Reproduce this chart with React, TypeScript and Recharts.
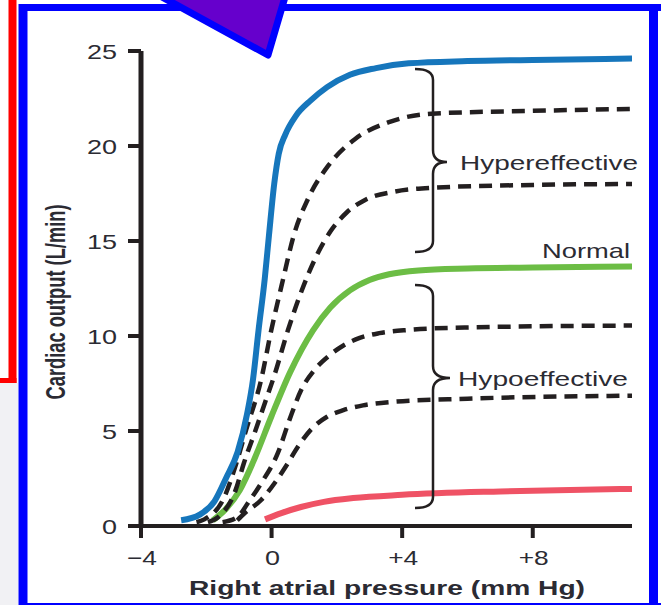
import { LineChart, Line, XAxis, YAxis } from "recharts";

// x ticks (mm Hg) and y ticks (L/min)
const xTicks = [-4, 0, 4, 8];
const xTickLabels = ["−4", "0", "+4", "+8"];
const yTicks = [0, 5, 10, 15, 20, 25];

// each curve: [right atrial pressure, cardiac output]
const maxEffective = [
  [-2.77, 0.3], [-2.2, 0.6], [-1.75, 1.3], [-1.4, 2.5], [-1.04, 3.9], [-0.75, 5.9],
  [-0.57, 7.7], [-0.4, 10.3], [-0.21, 13.0], [-0.08, 15.3], [0.08, 18.0], [0.22, 19.6],
  [0.42, 20.6], [0.75, 21.6], [1.2, 22.4], [1.7, 23.1], [2.4, 23.75], [3.2, 24.1],
  [4.2, 24.35], [6.0, 24.47], [8.0, 24.53], [11.04, 24.6],
];
const hyperHigh = [
  [-2.3, 0.2], [-2.06, 0.35], [-1.44, 1.55], [-1.08, 3.3], [-0.78, 5.06], [-0.32, 7.7],
  [-0.01, 10.3], [0.35, 12.97], [0.68, 15.3], [1.11, 17.2], [1.73, 18.95], [2.55, 20.36],
  [3.57, 21.24], [4.9, 21.7], [8.0, 21.85], [11.04, 21.95],
];
const hyperLow = [
  [-1.95, 0.2], [-1.65, 0.45], [-1.1, 1.9], [-0.85, 3.3], [-0.5, 5.0], [-0.2, 6.5],
  [0.08, 7.9], [0.5, 10.3], [0.86, 12.1], [1.37, 14.2], [1.8, 15.5], [2.3, 16.5],
  [2.85, 17.15], [3.77, 17.6], [4.9, 17.8], [8.0, 17.95], [11.04, 18.0],
];
const normal = [
  [-1.8, 0.3], [-1.4, 0.9], [-0.97, 1.9], [-0.52, 3.55], [-0.01, 5.75], [0.57, 8.1],
  [1.27, 10.3], [1.8, 11.5], [2.4, 12.4], [3.0, 12.95], [3.6, 13.25], [4.5, 13.45],
  [6.0, 13.55], [8.0, 13.6], [11.04, 13.66],
];
const hypoHigh = [
  [-1.5, 0.2], [-1.03, 0.49], [-0.73, 1.2], [-0.32, 2.25], [0.19, 3.83], [0.55, 5.6],
  [0.91, 7.17], [1.32, 8.23], [1.75, 8.95], [2.2, 9.5], [2.7, 9.9], [3.3, 10.15],
  [4.2, 10.32], [6.0, 10.45], [11.04, 10.55],
];
const hypoLow = [
  [-1.05, 0.3], [-0.83, 0.67], [-0.32, 1.37], [0.09, 2.25], [0.5, 3.31], [0.81, 4.18],
  [1.22, 5.1], [1.7, 5.75], [2.2, 6.1], [2.8, 6.35], [3.6, 6.52], [6.0, 6.7], [11.04, 6.86],
];
const minEffective = [
  [-0.2, 0.35], [0.3, 0.68], [0.9, 1.0], [1.6, 1.27], [2.5, 1.47], [4.0, 1.64],
  [7.0, 1.82], [11.04, 1.95],
];

const FONT = "'Liberation Sans', Arial, sans-serif";
const INK = "#231f20";
const TEXT = "#2b2b33";

const pts = (arr: number[][]) => arr.map(([x, y]) => ({ x, y }));

const YTick = ({ y, payload }: any) => {
  const s = String(payload.value);
  return (
    <text x={117} y={y + 7.5} textAnchor="end" fontFamily={FONT} fontSize={21} fill={TEXT}
      textLength={15 * s.length} lengthAdjust="spacingAndGlyphs">{s}</text>
  );
};

const XTick = ({ x, payload }: any) => {
  const s = xTickLabels[xTicks.indexOf(payload.value)] ?? String(payload.value);
  return (
    <text x={x + 1} y={565} textAnchor="middle" fontFamily={FONT} fontSize={21} fill={TEXT}
      textLength={s.length > 1 ? 30 : 15} lengthAdjust="spacingAndGlyphs">{s}</text>
  );
};

const dashed = { stroke: INK, strokeWidth: 4.5, strokeDasharray: "13 8" };

export default function App() {
  return (
    <div style={{ position: "absolute", left: 0, top: 0, width: 661, height: 605, background: "#fff", overflow: "hidden" }}>
      <LineChart width={661} height={605} margin={{ top: 51, right: 29, left: 81, bottom: 39 }}>
        <XAxis type="number" dataKey="x" domain={[-4, 11.04]} ticks={xTicks} allowDataOverflow
          height={40} tickSize={12} axisLine={{ stroke: INK, strokeWidth: 4 }}
          tickLine={{ stroke: INK, strokeWidth: 4 }} tick={<XTick />} />
        <YAxis type="number" dataKey="y" domain={[0, 25]} ticks={yTicks} allowDataOverflow
          width={60} tickSize={13} axisLine={{ stroke: INK, strokeWidth: 5 }}
          tickLine={{ stroke: INK, strokeWidth: 4 }} tick={<YTick />} />
        <Line data={pts(minEffective)} dataKey="y" type="monotone" stroke="#ef5265" strokeWidth={6} dot={false} activeDot={false} isAnimationActive={false} />
        <Line data={pts(hypoLow)} dataKey="y" type="monotone" {...dashed} dot={false} activeDot={false} isAnimationActive={false} />
        <Line data={pts(hypoHigh)} dataKey="y" type="monotone" {...dashed} dot={false} activeDot={false} isAnimationActive={false} />
        <Line data={pts(normal)} dataKey="y" type="monotone" stroke="#6cbd45" strokeWidth={6} dot={false} activeDot={false} isAnimationActive={false} />
        <Line data={pts(hyperLow)} dataKey="y" type="monotone" {...dashed} dot={false} activeDot={false} isAnimationActive={false} />
        <Line data={pts(hyperHigh)} dataKey="y" type="monotone" {...dashed} dot={false} activeDot={false} isAnimationActive={false} />
        <Line data={pts(maxEffective)} dataKey="y" type="monotone" stroke="#1676bc" strokeWidth={6} dot={false} activeDot={false} isAnimationActive={false} />
      </LineChart>

      <svg width={661} height={605} style={{ position: "absolute", left: 0, top: 0, pointerEvents: "none" }}>
        {/* slide decorations */}
        <rect x={0} y={383} width={18} height={222} fill="#f1f1f4" />
        <line x1={12.5} y1={0} x2={12.5} y2={383} stroke="#ff0000" strokeWidth={8} />
        <line x1={0} y1={380.5} x2={16.5} y2={380.5} stroke="#ff0000" strokeWidth={5} />
        <line x1={23} y1={7.5} x2={661} y2={7.5} stroke="#0000ff" strokeWidth={7} />
        <line x1={23} y1={4} x2={23} y2={605} stroke="#0000ff" strokeWidth={9} />
        <line x1={653.5} y1={4} x2={653.5} y2={605} stroke="#0000ff" strokeWidth={9} />
        <line x1={23} y1={604} x2={661} y2={604} stroke="#0000ff" strokeWidth={2} />
        <polygon points="131,-20 268,55 290,-20" fill="#6600cc" stroke="#0000ff" strokeWidth={7} strokeLinejoin="round" />

        {/* braces */}
        <path d="M415,69 Q433,69 433,80 L433,150 Q433,162 447,162 Q433,162 433,174 L433,241 Q433,252 415,252"
          fill="none" stroke={INK} strokeWidth={2.5} />
        <path d="M415,285 Q433,285 433,296 L433,366 Q433,378 450,378 Q433,378 433,390 L433,497 Q433,508 415,508"
          fill="none" stroke={INK} strokeWidth={2.5} />

        <text x={460} y={170} fontFamily={FONT} fontSize={21} fill={TEXT} textLength={178} lengthAdjust="spacingAndGlyphs">Hypereffective</text>
        <text x={630} y={258} textAnchor="end" fontFamily={FONT} fontSize={21} fill={TEXT} textLength={88} lengthAdjust="spacingAndGlyphs">Normal</text>
        <text x={458} y={386} fontFamily={FONT} fontSize={21} fill={TEXT} textLength={170} lengthAdjust="spacingAndGlyphs">Hypoeffective</text>

        {/* axis titles */}
        <text x={387} y={595} textAnchor="middle" fontFamily={FONT} fontSize={20} fontWeight="bold" fill={TEXT}
          textLength={396} lengthAdjust="spacingAndGlyphs">Right atrial pressure (mm Hg)</text>
        <text transform="translate(65,302) rotate(-90) scale(1,1.35)" textAnchor="middle" fontFamily={FONT}
          fontSize={20} fontWeight="bold" fill={TEXT} textLength={195} lengthAdjust="spacingAndGlyphs">Cardiac output (L/min)</text>
      </svg>
    </div>
  );
}
